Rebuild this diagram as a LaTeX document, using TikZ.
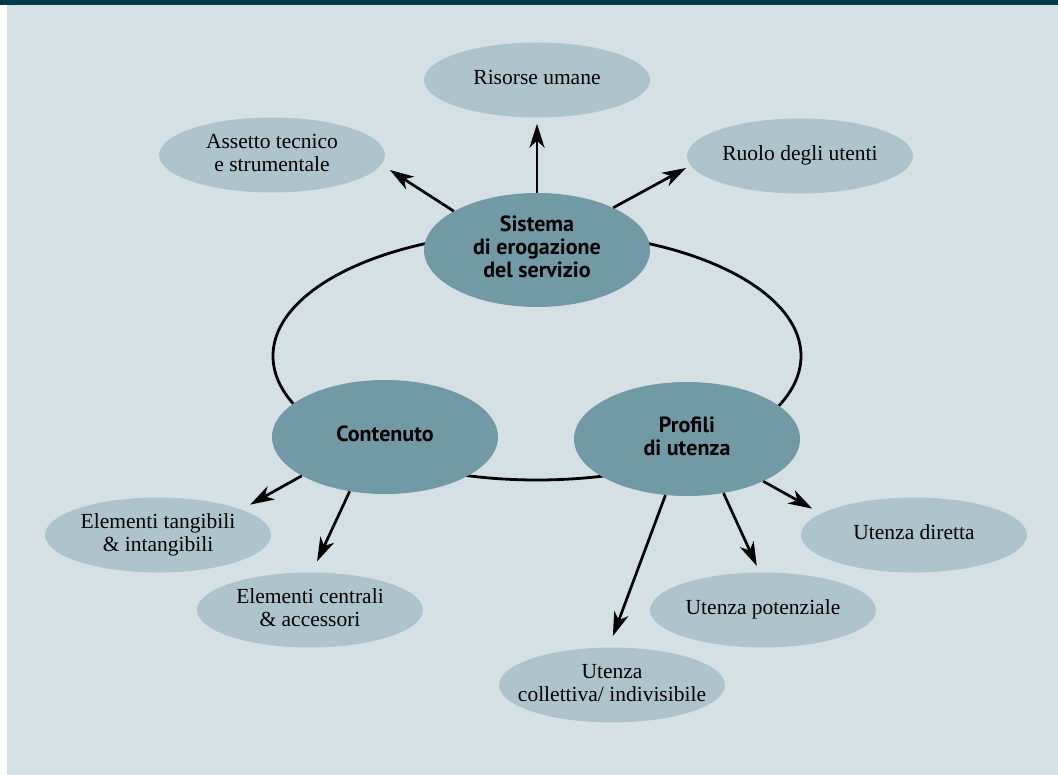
\documentclass[tikz,border=0pt]{standalone}
\usepackage{fontspec}
\setmainfont{Liberation Serif}
\newfontfamily\headfont{PT Sans}
\usetikzlibrary{arrows.meta,shapes.geometric}

\definecolor{panelbg}{HTML}{D5E0E5}
\definecolor{topbar}{HTML}{00394A}
\definecolor{hubfill}{HTML}{7199A6}
\definecolor{leaffill}{HTML}{ADC4CC}

% centred lines of text that do not widen the ellipse around them
\newcommand\ovaltext[1]{\makebox[0pt]{\begin{tabular}{@{}c@{}}#1\end{tabular}}}

\tikzset{
  hub/.style={ellipse, fill=hubfill, minimum width=226pt, minimum height=114pt,
    inner sep=0pt, font=\headfont\bfseries\fontsize{22}{23}\selectfont},
  leaf/.style={ellipse, fill=leaffill, minimum width=226pt, minimum height=75pt,
    inner sep=0pt, font=\fontsize{21.5}{23}\selectfont},
  link/.style={line width=2.7pt, -{Stealth[length=24pt,width=15pt,inset=7pt]}},
  ring/.style={line width=2.8pt},
}

\begin{document}
\begin{tikzpicture}[x=1pt, y=-1pt]
  \useasboundingbox (0,0) rectangle (1058,775);
  % page background and header rule
  \fill[white] (0,0) rectangle (1058,775);
  \fill[panelbg] (7,5) rectangle (1058,775);
  \fill[topbar] (0,0) rectangle (1058,5);

  % ring linking the three main elements
  \draw[ring] (537,356) ellipse [x radius=264pt, y radius=124pt];

  % main elements
  \node[hub] (sis) at (537,250) {\ovaltext{Sistema\\di erogazione\\del servizio}};
  \node[hub] (con) at (385,437) {\ovaltext{Contenuto}};
  \node[hub] (pro) at (687,439) {\ovaltext{Profili\\di utenza}};

  % secondary elements
  \node[leaf] (ris) at (537,80)  {\ovaltext{Risorse umane}};
  \node[leaf] (ass) at (272,155) {\ovaltext{Assetto tecnico\\e strumentale}};
  \node[leaf] (ruo) at (800,156) {\ovaltext{Ruolo degli utenti}};
  \node[leaf] (tan) at (158,535) {\ovaltext{Elementi tangibili\\\& intangibili}};
  \node[leaf] (cen) at (310,610) {\ovaltext{Elementi centrali\\\& accessori}};
  \node[leaf] (dir) at (914,535) {\ovaltext{Utenza diretta}};
  \node[leaf] (pot) at (763,610) {\ovaltext{Utenza potenziale}};
  \node[leaf] (col) at (612,685) {\ovaltext{Utenza\\collettiva/ indivisibile}};

  % arrows from the main elements
  \draw[link, shorten >=6pt]  (sis.north) -- (ris.south);
  \draw[link, shorten >=10pt] (sis.155) -- (ass.-5);
  \draw[link, shorten >=5pt]  (sis.29)  -- (ruo.185);
  \draw[link, shorten >=10pt] (con.205) -- (tan.17);
  \draw[link, shorten >=12pt] (con.237) -- (cen.87);
  \draw[link, shorten >=12pt] (pro.249) -- (col.95);
  \draw[link, shorten >=7pt]  (pro.304) -- (pot.95);
  \draw[link, shorten >=10pt] (pro.331) -- (dir.167);
\end{tikzpicture}
\end{document}
